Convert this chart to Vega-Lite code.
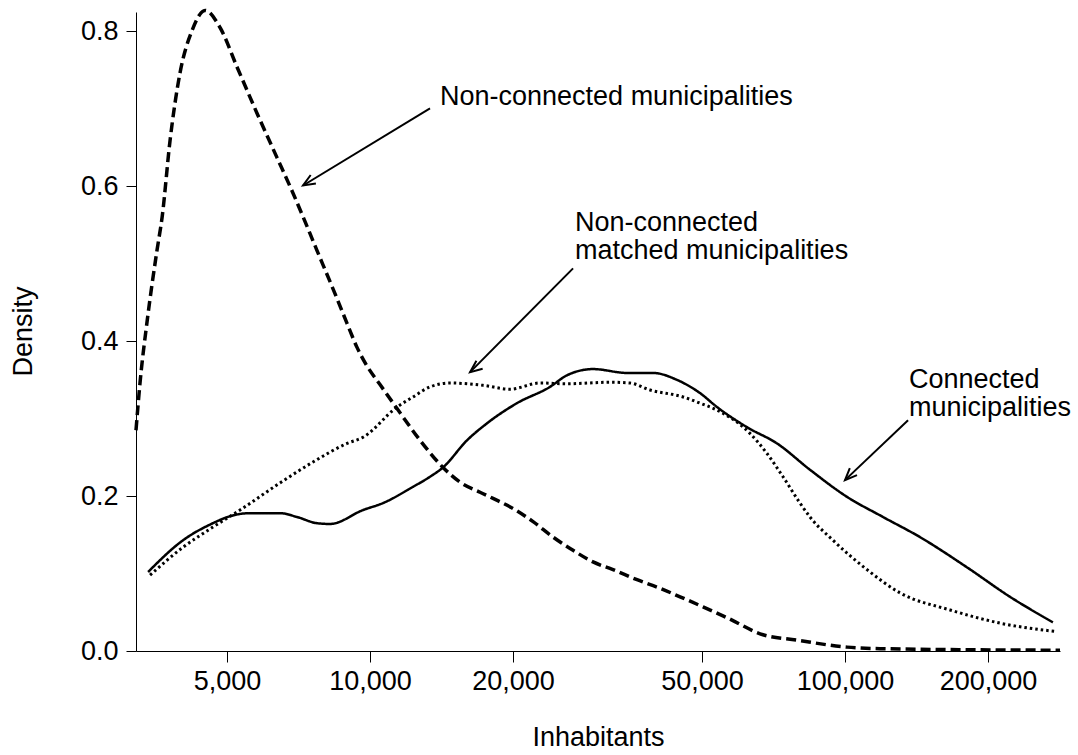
{
  "$schema": "https://vega.github.io/schema/vega-lite/v6.json",
  "width": 924,
  "height": 639,
  "autosize": {"type": "none"},
  "padding": {"left": 136, "top": 12, "right": 18, "bottom": 104},
  "background": "white",
  "config": {"view": {"stroke": null}, "font": "Liberation Sans"},
  "datasets": {
    "curves": [
      {"series": "Non-connected municipalities", "inhabitants": 3216, "density": 0.285},
      {"series": "Non-connected municipalities", "inhabitants": 3279, "density": 0.346},
      {"series": "Non-connected municipalities", "inhabitants": 3393, "density": 0.425},
      {"series": "Non-connected municipalities", "inhabitants": 3560, "density": 0.517},
      {"series": "Non-connected municipalities", "inhabitants": 3650, "density": 0.56},
      {"series": "Non-connected municipalities", "inhabitants": 3793, "density": 0.659},
      {"series": "Non-connected municipalities", "inhabitants": 3980, "density": 0.746},
      {"series": "Non-connected municipalities", "inhabitants": 4220, "density": 0.801},
      {"series": "Non-connected municipalities", "inhabitants": 4495, "density": 0.827},
      {"series": "Non-connected municipalities", "inhabitants": 4833, "density": 0.805},
      {"series": "Non-connected municipalities", "inhabitants": 5248, "density": 0.754},
      {"series": "Non-connected municipalities", "inhabitants": 5785, "density": 0.694},
      {"series": "Non-connected municipalities", "inhabitants": 6371, "density": 0.637},
      {"series": "Non-connected municipalities", "inhabitants": 6886, "density": 0.591},
      {"series": "Non-connected municipalities", "inhabitants": 7735, "density": 0.517},
      {"series": "Non-connected municipalities", "inhabitants": 8522, "density": 0.455},
      {"series": "Non-connected municipalities", "inhabitants": 8946, "density": 0.423},
      {"series": "Non-connected municipalities", "inhabitants": 9390, "density": 0.392},
      {"series": "Non-connected municipalities", "inhabitants": 9855, "density": 0.368},
      {"series": "Non-connected municipalities", "inhabitants": 10497, "density": 0.344},
      {"series": "Non-connected municipalities", "inhabitants": 11400, "density": 0.313},
      {"series": "Non-connected municipalities", "inhabitants": 12747, "density": 0.272},
      {"series": "Non-connected municipalities", "inhabitants": 14246, "density": 0.237},
      {"series": "Non-connected municipalities", "inhabitants": 15470, "density": 0.218},
      {"series": "Non-connected municipalities", "inhabitants": 17044, "density": 0.205},
      {"series": "Non-connected municipalities", "inhabitants": 18155, "density": 0.197},
      {"series": "Non-connected municipalities", "inhabitants": 20002, "density": 0.184},
      {"series": "Non-connected municipalities", "inhabitants": 22045, "density": 0.167},
      {"series": "Non-connected municipalities", "inhabitants": 24290, "density": 0.147},
      {"series": "Non-connected municipalities", "inhabitants": 26760, "density": 0.130},
      {"series": "Non-connected municipalities", "inhabitants": 29478, "density": 0.115},
      {"series": "Non-connected municipalities", "inhabitants": 32480, "density": 0.105},
      {"series": "Non-connected municipalities", "inhabitants": 36490, "density": 0.092},
      {"series": "Non-connected municipalities", "inhabitants": 40785, "density": 0.081},
      {"series": "Non-connected municipalities", "inhabitants": 44945, "density": 0.070},
      {"series": "Non-connected municipalities", "inhabitants": 50244, "density": 0.057},
      {"series": "Non-connected municipalities", "inhabitants": 56450, "density": 0.043},
      {"series": "Non-connected municipalities", "inhabitants": 67200, "density": 0.021},
      {"series": "Non-connected municipalities", "inhabitants": 79245, "density": 0.014},
      {"series": "Non-connected municipalities", "inhabitants": 101000, "density": 0.005},
      {"series": "Non-connected municipalities", "inhabitants": 118500, "density": 0.003},
      {"series": "Non-connected municipalities", "inhabitants": 283600, "density": 0.001},
      {"series": "Connected municipalities", "inhabitants": 3410, "density": 0.102},
      {"series": "Connected municipalities", "inhabitants": 4040, "density": 0.143},
      {"series": "Connected municipalities", "inhabitants": 4670, "density": 0.165},
      {"series": "Connected municipalities", "inhabitants": 5073, "density": 0.174},
      {"series": "Connected municipalities", "inhabitants": 5589, "density": 0.178},
      {"series": "Connected municipalities", "inhabitants": 6464, "density": 0.178},
      {"series": "Connected municipalities", "inhabitants": 7021, "density": 0.173},
      {"series": "Connected municipalities", "inhabitants": 7735, "density": 0.165},
      {"series": "Connected municipalities", "inhabitants": 8237, "density": 0.164},
      {"series": "Connected municipalities", "inhabitants": 9669, "density": 0.182},
      {"series": "Connected municipalities", "inhabitants": 10652, "density": 0.191},
      {"series": "Connected municipalities", "inhabitants": 12318, "density": 0.212},
      {"series": "Connected municipalities", "inhabitants": 13376, "density": 0.225},
      {"series": "Connected municipalities", "inhabitants": 14246, "density": 0.237},
      {"series": "Connected municipalities", "inhabitants": 16003, "density": 0.272},
      {"series": "Connected municipalities", "inhabitants": 17636, "density": 0.294},
      {"series": "Connected municipalities", "inhabitants": 20393, "density": 0.32},
      {"series": "Connected municipalities", "inhabitants": 23930, "density": 0.341},
      {"series": "Connected municipalities", "inhabitants": 25988, "density": 0.356},
      {"series": "Connected municipalities", "inhabitants": 29478, "density": 0.364},
      {"series": "Connected municipalities", "inhabitants": 34767, "density": 0.359},
      {"series": "Connected municipalities", "inhabitants": 39437, "density": 0.359},
      {"series": "Connected municipalities", "inhabitants": 44301, "density": 0.350},
      {"series": "Connected municipalities", "inhabitants": 49519, "density": 0.333},
      {"series": "Connected municipalities", "inhabitants": 53774, "density": 0.315},
      {"series": "Connected municipalities", "inhabitants": 62172, "density": 0.289},
      {"series": "Connected municipalities", "inhabitants": 71927, "density": 0.268},
      {"series": "Connected municipalities", "inhabitants": 84397, "density": 0.234},
      {"series": "Connected municipalities", "inhabitants": 101000, "density": 0.199},
      {"series": "Connected municipalities", "inhabitants": 120260, "density": 0.173},
      {"series": "Connected municipalities", "inhabitants": 143900, "density": 0.147},
      {"series": "Connected municipalities", "inhabitants": 180700, "density": 0.108},
      {"series": "Connected municipalities", "inhabitants": 222500, "density": 0.070},
      {"series": "Connected municipalities", "inhabitants": 274000, "density": 0.037},
      {"series": "Non-connected matched municipalities", "inhabitants": 3443, "density": 0.098},
      {"series": "Non-connected matched municipalities", "inhabitants": 4040, "density": 0.134},
      {"series": "Non-connected matched municipalities", "inhabitants": 4670, "density": 0.160},
      {"series": "Non-connected matched municipalities", "inhabitants": 5325, "density": 0.182},
      {"series": "Non-connected matched municipalities", "inhabitants": 6464, "density": 0.217},
      {"series": "Non-connected matched municipalities", "inhabitants": 7586, "density": 0.244},
      {"series": "Non-connected matched municipalities", "inhabitants": 8946, "density": 0.268},
      {"series": "Non-connected matched municipalities", "inhabitants": 9669, "density": 0.276},
      {"series": "Non-connected matched municipalities", "inhabitants": 11400, "density": 0.315},
      {"series": "Non-connected matched municipalities", "inhabitants": 12318, "density": 0.328},
      {"series": "Non-connected matched municipalities", "inhabitants": 13376, "density": 0.341},
      {"series": "Non-connected matched municipalities", "inhabitants": 14739, "density": 0.346},
      {"series": "Non-connected matched municipalities", "inhabitants": 17294, "density": 0.343},
      {"series": "Non-connected matched municipalities", "inhabitants": 19714, "density": 0.338},
      {"series": "Non-connected matched municipalities", "inhabitants": 22801, "density": 0.346},
      {"series": "Non-connected matched municipalities", "inhabitants": 25988, "density": 0.345},
      {"series": "Non-connected matched municipalities", "inhabitants": 32024, "density": 0.347},
      {"series": "Non-connected matched municipalities", "inhabitants": 35274, "density": 0.346},
      {"series": "Non-connected matched municipalities", "inhabitants": 38870, "density": 0.337},
      {"series": "Non-connected matched municipalities", "inhabitants": 45604, "density": 0.328},
      {"series": "Non-connected matched municipalities", "inhabitants": 49519, "density": 0.320},
      {"series": "Non-connected matched municipalities", "inhabitants": 53774, "density": 0.311},
      {"series": "Non-connected matched municipalities", "inhabitants": 63082, "density": 0.281},
      {"series": "Non-connected matched municipalities", "inhabitants": 68524, "density": 0.255},
      {"series": "Non-connected matched municipalities", "inhabitants": 74048, "density": 0.225},
      {"series": "Non-connected matched municipalities", "inhabitants": 80401, "density": 0.191},
      {"series": "Non-connected matched municipalities", "inhabitants": 84397, "density": 0.173},
      {"series": "Non-connected matched municipalities", "inhabitants": 94337, "density": 0.143},
      {"series": "Non-connected matched municipalities", "inhabitants": 111300, "density": 0.105},
      {"series": "Non-connected matched municipalities", "inhabitants": 130600, "density": 0.075},
      {"series": "Non-connected matched municipalities", "inhabitants": 166400, "density": 0.053},
      {"series": "Non-connected matched municipalities", "inhabitants": 212000, "density": 0.036},
      {"series": "Non-connected matched municipalities", "inhabitants": 279500, "density": 0.025}
    ],
    "arrows": [
      {"arrow": "a1", "role": "tail", "inhabitants": 13376, "density": 0.7006},
      {"arrow": "a1", "role": "tip", "inhabitants": 7227, "density": 0.601},
      {"arrow": "a2", "role": "tail", "inhabitants": 26760, "density": 0.494},
      {"arrow": "a2", "role": "tip", "inhabitants": 16245, "density": 0.36},
      {"arrow": "a3", "role": "tail", "inhabitants": 135770, "density": 0.298},
      {"arrow": "a3", "role": "tip", "inhabitants": 100000, "density": 0.2206}
    ],
    "labels": [
      {"text": "Non-connected municipalities", "inhabitants": 14040, "density": 0.7045},
      {"text": "Non-connected", "inhabitants": 27016, "density": 0.542},
      {"text": "matched municipalities", "inhabitants": 27016, "density": 0.5058},
      {"text": "Connected", "inhabitants": 136400, "density": 0.3394},
      {"text": "municipalities", "inhabitants": 136400, "density": 0.3032}
    ]
  },
  "encoding": {
    "x": {
      "field": "inhabitants",
      "type": "quantitative",
      "scale": {"type": "log", "domain": [3216, 283600], "nice": false},
      "axis": {
        "title": "Inhabitants",
        "values": [5000, 10000, 20000, 50000, 100000, 200000],
        "format": ",.0f",
        "grid": false,
        "tickSize": 11,
        "tickColor": "black",
        "domainColor": "black",
        "labelColor": "black",
        "labelFont": "Liberation Sans",
        "labelFontSize": 27,
        "labelPadding": 6,
        "titleFont": "Liberation Sans",
        "titleFontSize": 27,
        "titleFontWeight": "normal",
        "titleColor": "black",
        "titleY": 94,
        "titleBaseline": "alphabetic"
      }
    },
    "y": {
      "field": "density",
      "type": "quantitative",
      "scale": {"domain": [0, 0.825], "nice": false},
      "axis": {
        "title": "Density",
        "values": [0, 0.2, 0.4, 0.6, 0.8],
        "format": ".1f",
        "grid": false,
        "tickSize": 10,
        "tickColor": "black",
        "domainColor": "black",
        "labelColor": "black",
        "labelFont": "Liberation Sans",
        "labelFontSize": 27,
        "labelPadding": 8,
        "titleFont": "Liberation Sans",
        "titleFontSize": 27,
        "titleFontWeight": "normal",
        "titleColor": "black",
        "titleAngle": 270,
        "titleX": -113,
        "titleY": 319,
        "titleAlign": "center",
        "titleBaseline": "middle"
      }
    }
  },
  "layer": [
    {
      "data": {"name": "curves"},
      "mark": {"type": "line", "color": "black", "interpolate": "monotone", "strokeCap": "butt"},
      "encoding": {
        "detail": {"field": "series", "type": "nominal"},
        "strokeDash": {
          "field": "series",
          "type": "nominal",
          "scale": {
            "domain": ["Non-connected municipalities", "Non-connected matched municipalities", "Connected municipalities"],
            "range": [[10, 5], [2.5, 3], [1, 0]]
          },
          "legend": null
        },
        "strokeWidth": {
          "field": "series",
          "type": "nominal",
          "scale": {
            "domain": ["Non-connected municipalities", "Non-connected matched municipalities", "Connected municipalities"],
            "range": [3.5, 2.5, 3]
          },
          "legend": null
        }
      }
    },
    {
      "data": {"name": "arrows"},
      "mark": {"type": "line", "color": "black", "strokeWidth": 2},
      "encoding": {
        "detail": {"field": "arrow", "type": "nominal"},
        "order": {"field": "role", "type": "nominal"}
      }
    },
    {
      "data": {"name": "arrows"},
      "transform": [{"filter": "datum.role === 'tip'"}],
      "mark": {
        "type": "point",
        "shape": "M-0.42,1L0,0L0.42,1",
        "filled": false,
        "stroke": "black",
        "strokeWidth": 2,
        "size": 576,
        "opacity": 1
      },
      "encoding": {
        "angle": {
          "field": "arrow",
          "type": "nominal",
          "scale": {"domain": ["a1", "a2", "a3"], "range": [238.8, 224.7, 226.4]},
          "legend": null
        }
      }
    },
    {
      "data": {"name": "labels"},
      "mark": {
        "type": "text",
        "align": "left",
        "baseline": "alphabetic",
        "font": "Liberation Sans",
        "fontSize": 27,
        "color": "black"
      },
      "encoding": {
        "text": {"field": "text", "type": "nominal"}
      }
    }
  ]
}
